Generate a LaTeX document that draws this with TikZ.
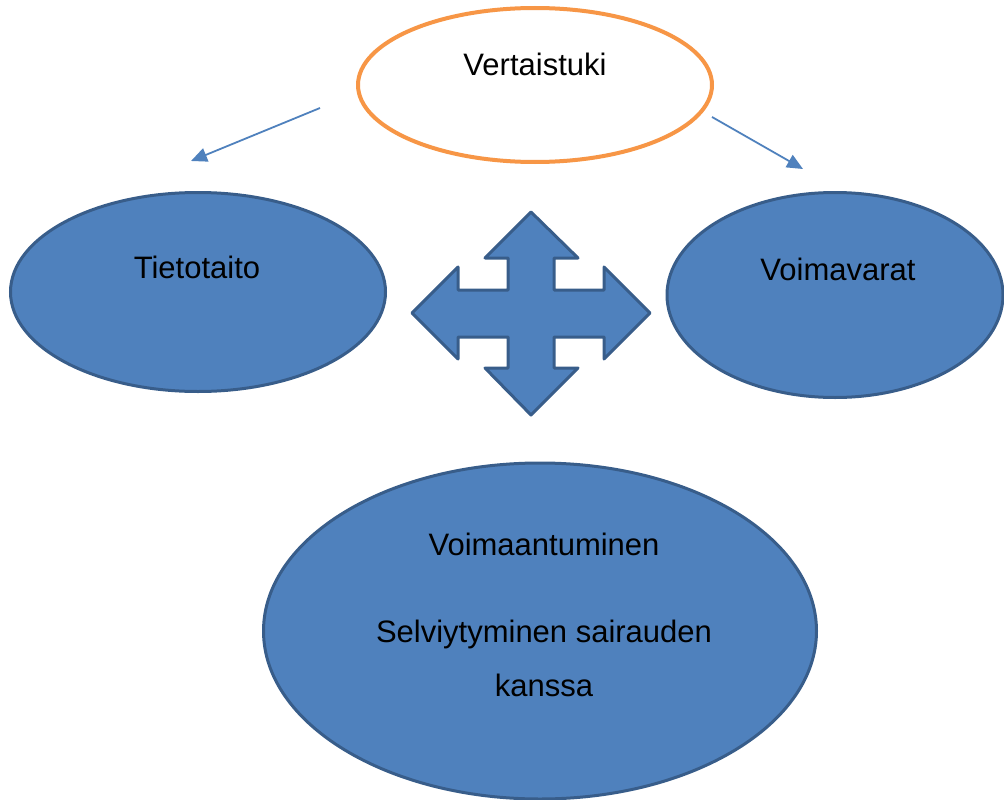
\documentclass[tikz,border=0pt]{standalone}
\usepackage{fontspec}
\setmainfont{Liberation Sans}
\usetikzlibrary{shapes.geometric,arrows.meta}
\definecolor{fillblue}{HTML}{4F81BD}
\definecolor{edgeblue}{HTML}{385D8A}
\definecolor{orangeedge}{HTML}{F79646}
\tikzset{
  blueell/.style={ellipse, draw=edgeblue, fill=fillblue, line width=3pt, inner sep=0pt},
  lbl/.style={font=\fontsize{31}{37}\selectfont, inner sep=0pt, align=center},
  conn/.style={draw=fillblue, line width=1.8pt, -{Triangle[length=16pt,width=14pt]}},
}
\begin{document}
\begin{tikzpicture}[x=1pt,y=-1pt]
\useasboundingbox (0,0) rectangle (1004,800);
% ellipses
\node[ellipse, draw=orangeedge, line width=4pt, fill=white, minimum width=354pt, minimum height=154pt, inner sep=0pt] (vert) at (535,85) {};
\node[blueell, minimum width=375pt, minimum height=199pt] (tieto) at (198,292) {};
\node[blueell, minimum width=336pt, minimum height=205pt] (voima) at (835,295) {};
\node[blueell, minimum width=553pt, minimum height=336pt] (big) at (540,631) {};
% labels
\node[lbl, anchor=base] (tvert) at (535,76) {Vertaistuki};
\node[lbl, anchor=base] (ttieto) at (197,278) {Tietotaito};
\node[lbl, anchor=base] (tvoima) at (838,280) {Voimavarat};
\node[lbl, anchor=base] (tbig1) at (544,555) {Voimaantuminen};
\node[lbl, anchor=base] (tbig2) at (544,642) {Selviytyminen sairauden};
\node[lbl, anchor=base] (tbig3) at (544,696) {kanssa};
% cross arrow
\coordinate (cx) at (531,313);
\draw[draw=edgeblue, fill=fillblue, line width=3pt, line join=round]
  (531,212) -- (578,258) -- (554,258) -- (554,290) -- (604,290) -- (604,267)
  -- (650,313) -- (604,359) -- (604,337) -- (554,337) -- (554,368) -- (578,368)
  -- (531,415) -- (485,368) -- (508,368) -- (508,337) -- (458,337) -- (458,359)
  -- (412,313) -- (458,267) -- (458,290) -- (508,290) -- (508,258) -- (485,258) -- cycle;
% connectors
\coordinate (l1) at (320,108);
\coordinate (l2) at (191,161);
\coordinate (r1) at (712,117);
\coordinate (r2) at (803,169);
\draw[conn] (l1) -- (l2);
\draw[conn] (r1) -- (r2);
\end{tikzpicture}
\end{document}
